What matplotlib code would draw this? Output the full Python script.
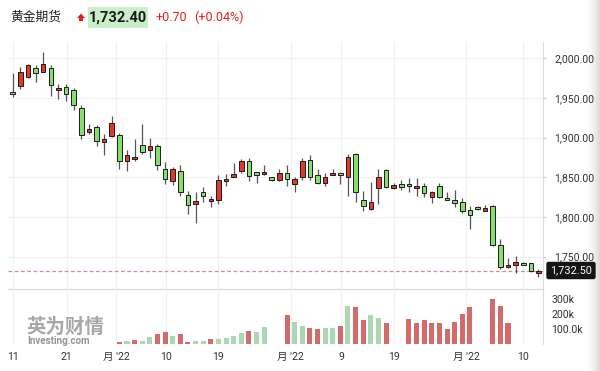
import numpy as np
import matplotlib
matplotlib.use('Agg')
import matplotlib.pyplot as plt
from matplotlib.patches import Rectangle, Polygon, FancyBboxPatch

# ---------------- data ----------------
opens = [1957, 1965, 1977, 1988, 1983, 1988, 1960, 1964, 1960, 1937,
         1907, 1914, 1894, 1902, 1903, 1871, 1873, 1891, 1885, 1890,
         1860, 1845, 1858, 1828, 1817, 1831, 1820, 1821, 1845, 1851,
         1858, 1871, 1857, 1854, 1850, 1847, 1856, 1841, 1850, 1872,
         1853.5, 1843, 1853.5, 1855.5, 1850, 1879, 1821, 1810, 1836, 1859,
         1837, 1841, 1841, 1836, 1839, 1825, 1839.5, 1823.5, 1821.5, 1819,
         1809, 1813, 1808, 1814, 1765, 1737, 1740, 1742, 1742, 1729]
highs = [1982, 1989, 1992.5, 1991, 2008, 1991, 1967, 1967, 1963, 1941,
         1917, 1916, 1904, 1927, 1906, 1885, 1898, 1917, 1900, 1892,
         1869, 1863, 1865, 1833, 1831, 1838, 1826, 1853, 1854, 1868,
         1873, 1874, 1857, 1866, 1850, 1861, 1866, 1850, 1874, 1878,
         1860, 1856, 1861, 1857, 1879, 1881, 1833, 1844, 1860, 1860,
         1843, 1847, 1849, 1849.5, 1843, 1833, 1843, 1831, 1834, 1824,
         1814, 1814.5, 1815, 1815, 1772, 1748, 1751, 1743, 1742.5, 1735]
lows = [1951, 1961, 1975, 1970, 1983, 1953, 1949, 1946, 1935, 1898,
        1905, 1889, 1878, 1901, 1861, 1858, 1871, 1880, 1874, 1859,
        1842, 1840, 1827, 1804, 1792, 1819, 1812, 1816, 1839, 1850,
        1855, 1845, 1843, 1852.5, 1846, 1846, 1839, 1831, 1847, 1847,
        1841, 1839, 1853.5, 1842, 1827, 1819, 1808, 1809, 1817, 1837,
        1835, 1834, 1832, 1826, 1825, 1818, 1824, 1821, 1813, 1805,
        1785, 1809, 1807, 1764, 1734, 1736, 1729, 1739, 1731, 1724]
closes = [1955, 1983, 1992, 1982, 1993, 1966, 1962, 1955, 1941, 1903,
          1911, 1896, 1898, 1918, 1871, 1878, 1876, 1882, 1890, 1865,
          1848, 1860, 1831, 1815, 1820, 1826, 1822, 1847, 1847.5, 1854,
          1870, 1852, 1853.5, 1857, 1847, 1855, 1848, 1848, 1870, 1850,
          1843, 1851, 1856, 1852.5, 1875, 1831, 1814, 1819, 1851, 1838,
          1840, 1838, 1838.5, 1839, 1830, 1831, 1825, 1821.5, 1818, 1808,
          1802, 1810, 1811, 1765, 1737, 1740, 1743, 1740, 1732.5, 1732.5]

nan = float('nan')
volumes_k = [nan, nan, nan, nan, nan, nan, nan, nan, nan, nan,
             nan, nan, nan, nan, 11, 20, 27, 20, 44, 64,
             82, 53, 64, 13, 20, 20, 31, 33, 38, 56,
             71, 89, 82, 116, nan, nan, 193, 149, 122, 109,
             98, 109, 109, 122, 256, 244, 160, 193, 171, 138,
             nan, nan, 167, 142, 160, 138, 138, 102, 149, 200,
             244, nan, nan, 300, 253, 142, nan, nan, nan, nan]
vol_colors = ['G'] * 14 + [
    'R', 'G', 'R', 'G', 'G', 'R', 'R', 'G', 'R', 'R',
    'G', 'G', 'R', 'G', 'G', 'G', 'G', 'R', 'G', 'G',
    'G', 'G', 'R', 'G', 'G', 'R', 'R', 'G', 'G', 'R',
    'G', 'R', 'R', 'G', 'G', 'R', 'R', 'R', 'R', 'R',
    'R', 'R', 'R', 'R', 'R', 'R', 'R', 'R', 'R', 'R',
    'R', 'R', 'R', 'G', 'G', 'G']

x_tick_pos = [0, 7.1, 13.6, 20.1, 27.0, 36.5, 43.1, 50.0, 59.5, 67.0]
x_tick_labels = ['11', '21', "月 '22", '10', '19', "月 '22", '9', '19', "月 '22", '10']
price_ticks = [1750, 1800, 1850, 1900, 1950, 2000]
vol_ticks = [100, 200, 300]
vol_tick_labels = ['100.0k', '200k', '300k']

title = '黄金期货'
last_price = '1,732.40'
change = '+0.70'
change_pct = '(+0.04%)'
current_price = 1732.5
current_label = '1,732.50'

# ---------------- style ----------------
W, H = 600, 371
FONT = ['Roboto', 'Noto Sans CJK SC', 'DejaVu Sans']
plt.rcParams['font.family'] = FONT
RED = '#e2372c'
GREEN = '#86df6c'
VRED = '#d46b6b'
VGREEN = '#a9d8b2'
GRID = '#f1f1f1'
TXT = '#333333'

def fx(x):
    return x / W

def fy(y):
    return 1 - y / H

fig = plt.figure(figsize=(W / 100, H / 100), dpi=100)
fig.patch.set_facecolor('white')

# right-edge soft shadow
axg = fig.add_axes([fx(586), 0, fx(14), 1], zorder=0)
grad = np.linspace(0, 1, 64)[None, :] ** 1.6
axg.imshow(grad, aspect='auto', cmap=matplotlib.colors.LinearSegmentedColormap.from_list('g', ['#ffffff', '#d9d9d9']),
           extent=[0, 1, 0, 1])
axg.axis('off')

n = len(opens)
idx = np.arange(n)
xl = ((8 - 12.7) / 7.62, (543 - 12.7) / 7.62)

# price panel
ax = fig.add_axes([fx(8), fy(289), fx(543 - 8), (289 - 42) / H], zorder=2)
ax.set_facecolor('none')
ax.set_xlim(*xl)
ax.set_ylim(1709.3, 2020.5)
for yv in price_ticks:
    ax.axhline(yv, color=GRID, lw=0.8, zorder=0)
for xv in x_tick_pos:
    ax.axvline(xv, color=GRID, lw=0.8, zorder=0)

bw = 0.6
for i in range(n):
    o, h, l, c = opens[i], highs[i], lows[i], closes[i]
    up = c >= o
    col = RED if up else GREEN
    ax.vlines(i, l, h, color='#555555', lw=0.9, zorder=2)
    bot = min(o, c)
    ht = max(abs(c - o), 2.2)
    ax.add_patch(Rectangle((i - bw / 2, bot), bw, ht, fc=col, ec='#1c1c1c', lw=0.7, zorder=3))

ax.axhline(current_price, color='#d98a8a', lw=0.9, ls=(0, (3, 2)), zorder=1)

ax.yaxis.tick_right()
ax.set_yticks(price_ticks)
ax.set_yticklabels([f'{v:,.2f}' for v in price_ticks])
ax.tick_params(axis='y', length=2, color='#cccccc', pad=6, labelsize=7.6, labelcolor=TXT)
ax.set_xticks([])
for s in ['top', 'left']:
    ax.spines[s].set_visible(False)
ax.spines['right'].set_color('#dddddd')
ax.spines['bottom'].set_color('#d6d6d6')

# volume panel
axv = fig.add_axes([fx(8), fy(344), fx(543 - 8), (344 - 289) / H], zorder=2)
axv.set_facecolor('none')
axv.set_xlim(*xl)
axv.set_ylim(0, (344 - 289) / 15 * 100)
for xv in x_tick_pos:
    axv.axvline(xv, color=GRID, lw=0.8, zorder=0)
vcols = [VRED if c == 'R' else VGREEN for c in vol_colors]
vv = np.array(volumes_k, dtype=float)
mask = ~np.isnan(vv)
axv.bar(idx[mask], vv[mask], width=0.66, color=np.array(vcols)[mask], zorder=2)
axv.yaxis.tick_right()
axv.set_yticks(vol_ticks)
axv.set_yticklabels(vol_tick_labels)
axv.tick_params(axis='y', length=0, pad=6, labelsize=7.6, labelcolor=TXT)
axv.set_xticks(x_tick_pos)
axv.set_xticklabels(x_tick_labels)
axv.tick_params(axis='x', length=0, pad=6, labelsize=7.6, labelcolor=TXT)
for s in ['top', 'left', 'bottom']:
    axv.spines[s].set_visible(False)
axv.spines['right'].set_color('#dddddd')

# watermark
fig.text(fx(26), fy(327), '英为财情', fontsize=14, color='#8a8a8a', alpha=0.75,
         fontweight='bold', ha='left', va='center', family=['Noto Sans CJK SC', 'DejaVu Sans'], zorder=5)
fig.text(fx(27), fy(341), 'Investing.com', fontsize=7, color='#7a7a7a', alpha=0.8,
         ha='left', va='center', fontweight='bold', zorder=5)

# current price label
fig.text(fx(571), fy(270.5), current_label, fontsize=7.8, color='white', ha='center', va='center',
         zorder=10, bbox=dict(boxstyle='round,pad=0.28,rounding_size=0.15', fc='#151515', ec='#151515'))

# header
fig.text(fx(10), fy(17), title, fontsize=9.2, color='#222222', ha='left', va='center',
         family=['Noto Sans CJK SC', 'DejaVu Sans'])
# red up arrow icon
ax_icon_pts = [(77, 18), (81, 13.5), (85, 18), (83, 18), (83, 21), (79, 21), (79, 18)]
fig.patches.append(Polygon([(fx(px), fy(py)) for px, py in ax_icon_pts], closed=True,
                           transform=fig.transFigure, fc='#e02020', ec='none'))
fig.patches.append(FancyBboxPatch((fx(88), fy(28)), fx(60), (28 - 7) / H, boxstyle='square,pad=0',
                                  transform=fig.transFigure, fc='#c8efc8', ec='none'))
fig.text(fx(118), fy(17.5), last_price, fontsize=10.5, fontweight='bold', color='#1a1a1a',
         ha='center', va='center')
fig.text(fx(155), fy(17.5), change, fontsize=9, color='#e0201b', ha='left', va='center')
fig.text(fx(194), fy(17.5), change_pct, fontsize=9, color='#e0201b', ha='left', va='center')

fig.savefig('out.png', dpi=100)
